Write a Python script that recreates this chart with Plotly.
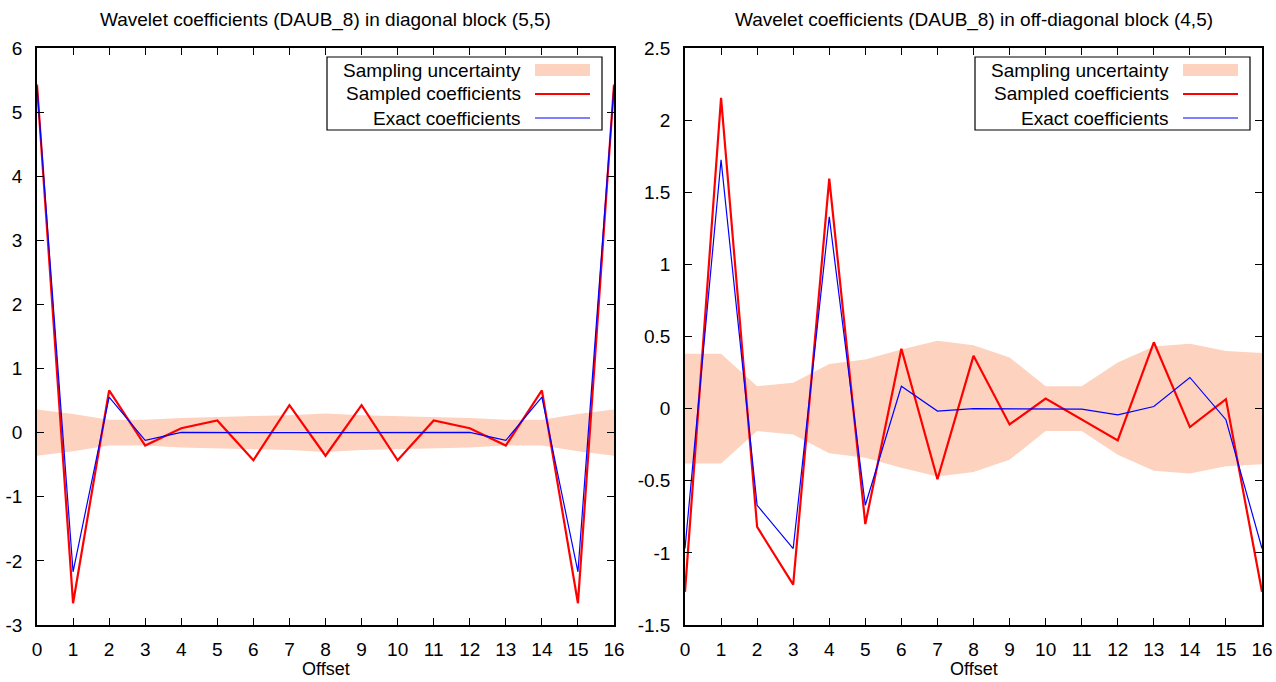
import plotly.graph_objects as go

W, H = 1276, 682

offsets = list(range(17))

# Left panel: diagonal block (5,5)
left_band_half = [0.36, 0.29, 0.20, 0.20, 0.23, 0.25, 0.26, 0.27, 0.30, 0.27, 0.26, 0.25, 0.23, 0.20, 0.20, 0.29, 0.36]
left_sampled = [5.43, -2.66, 0.66, -0.20, 0.07, 0.19, -0.43, 0.43, -0.36, 0.43, -0.43, 0.19, 0.07, -0.20, 0.66, -2.66, 5.43]
left_exact = [5.40, -2.17, 0.555, -0.12, 0.005, 0.0, 0.0, 0.0, 0.0, 0.0, 0.0, 0.0, 0.005, -0.12, 0.555, -2.17, 5.40]

# Right panel: off-diagonal block (4,5)
right_band_half = [0.38, 0.38, 0.155, 0.18, 0.31, 0.34, 0.41, 0.47, 0.44, 0.355, 0.155, 0.155, 0.32, 0.43, 0.45, 0.40, 0.385]
right_sampled = [-1.27, 2.155, -0.82, -1.22, 1.595, -0.80, 0.415, -0.49, 0.366, -0.11, 0.07, -0.076, -0.22, 0.46, -0.128, 0.066, -1.27]
right_exact = [-0.97, 1.725, -0.67, -0.97, 1.33, -0.67, 0.155, -0.017, 0.0, 0.0, 0.0, -0.003, -0.043, 0.015, 0.216, -0.077, -0.97]

left_yticks = [-3, -2, -1, 0, 1, 2, 3, 4, 5, 6]
left_yticktext = ["-3", "-2", "-1", "0", "1", "2", "3", "4", "5", "6"]
right_yticks = [-1.5, -1, -0.5, 0, 0.5, 1, 1.5, 2, 2.5]
right_yticktext = ["-1.5", "-1", "-0.5", "0", "0.5", "1", "1.5", "2", "2.5"]

titles = ["Wavelet coefficients (DAUB_8) in diagonal block (5,5)",
          "Wavelet coefficients (DAUB_8) in off-diagonal block (4,5)"]
legend_labels = ["Sampling uncertainty", "Sampled coefficients", "Exact coefficients"]

BAND = "#fdd2bf"
FONT = "Liberation Sans"
FS = 19


def px(x):
    return x / W


def py(y):
    return 1 - y / H


fig = go.Figure()

panels = [
    ("x", "y", left_band_half, left_sampled, left_exact),
    ("x2", "y2", right_band_half, right_sampled, right_exact),
]
for xa, ya, half, samp, exact in panels:
    upper = [h for h in half]
    lower = [-h for h in half]
    fig.add_trace(go.Scatter(x=offsets, y=lower, xaxis=xa, yaxis=ya, mode="lines",
                             line=dict(width=0, color=BAND), showlegend=False, hoverinfo="skip"))
    fig.add_trace(go.Scatter(x=offsets, y=upper, xaxis=xa, yaxis=ya, mode="lines",
                             line=dict(width=0, color=BAND), fill="tonexty", fillcolor=BAND,
                             showlegend=False, hoverinfo="skip"))
    fig.add_trace(go.Scatter(x=offsets, y=samp, xaxis=xa, yaxis=ya, mode="lines",
                             line=dict(width=2.2, color="#ff0000"), showlegend=False))
    fig.add_trace(go.Scatter(x=offsets, y=exact, xaxis=xa, yaxis=ya, mode="lines",
                             line=dict(width=1.2, color="#0000ff"), showlegend=False))

axis_common = dict(
    showline=True, linecolor="black", linewidth=1.5, mirror="allticks",
    ticks="inside", ticklen=7, tickcolor="black", tickwidth=1,
    showgrid=False, zeroline=False, automargin=False,
    tickfont=dict(family=FONT, size=FS, color="black"),
)

xdom_left = [px(37), px(614)]
xdom_right = [px(685), px(1262)]
ydom = [py(625), py(48)]

fig.update_layout(
    width=W, height=H,
    margin=dict(l=0, r=0, t=0, b=0),
    paper_bgcolor="white", plot_bgcolor="white",
    showlegend=False,
    xaxis=dict(domain=xdom_left, range=[0, 16], tickvals=offsets, anchor="y",
               ticklabelstandoff=6, **axis_common),
    yaxis=dict(domain=ydom, range=[-3, 6], tickvals=left_yticks, ticktext=left_yticktext,
               anchor="x", ticklabelstandoff=9, **axis_common),
    xaxis2=dict(domain=xdom_right, range=[0, 16], tickvals=offsets, anchor="y2",
                ticklabelstandoff=6, **axis_common),
    yaxis2=dict(domain=ydom, range=[-1.5, 2.5], tickvals=right_yticks, ticktext=right_yticktext,
                anchor="x2", ticklabelstandoff=9, **axis_common),
)

shapes = []
annotations = []
for i, (xa, dom) in enumerate([("x", xdom_left), ("x2", xdom_right)]):
    yname = "y" if xa == "x" else "y2"
    # dotted zero line
    shapes.append(dict(type="line", xref=f"{xa} domain", yref=yname, x0=0, x1=1, y0=0, y1=0,
                       line=dict(color="black", width=1, dash="dot"), layer="below"))
    # titles
    annotations.append(dict(text=titles[i], xref="paper", yref="paper",
                            x=(dom[0] + dom[1]) / 2, y=py(20), xanchor="center", yanchor="middle",
                            showarrow=False, font=dict(family=FONT, size=FS, color="black")))
    annotations.append(dict(text="Offset", xref="paper", yref="paper",
                            x=(dom[0] + dom[1]) / 2, y=py(681), xanchor="center", yanchor="bottom",
                            showarrow=False, font=dict(family=FONT, size=FS - 1, color="black")))
    # manual gnuplot-style legend
    dx = 0 if i == 0 else 648
    shapes.append(dict(type="rect", xref="paper", yref="paper",
                       x0=px(327 + dx), x1=px(602 + dx), y0=py(130), y1=py(57),
                       line=dict(color="black", width=1.2), fillcolor="white", layer="above"))
    rows = [70, 94, 118]
    for j, label in enumerate(legend_labels):
        annotations.append(dict(text=label, xref="paper", yref="paper",
                                x=px(523 + dx), y=py(rows[j]), xanchor="right", yanchor="middle",
                                showarrow=False, font=dict(family=FONT, size=FS, color="black")))
    shapes.append(dict(type="rect", xref="paper", yref="paper",
                       x0=px(535 + dx), x1=px(590 + dx), y0=py(76), y1=py(64),
                       line=dict(width=0), fillcolor=BAND, layer="above"))
    shapes.append(dict(type="line", xref="paper", yref="paper",
                       x0=px(535 + dx), x1=px(590 + dx), y0=py(94), y1=py(94),
                       line=dict(color="#ff0000", width=2), layer="above"))
    shapes.append(dict(type="line", xref="paper", yref="paper",
                       x0=px(535 + dx), x1=px(590 + dx), y0=py(118), y1=py(118),
                       line=dict(color="#0000ff", width=1), layer="above"))

fig.update_layout(shapes=shapes, annotations=annotations)

fig.write_html("out.html")
